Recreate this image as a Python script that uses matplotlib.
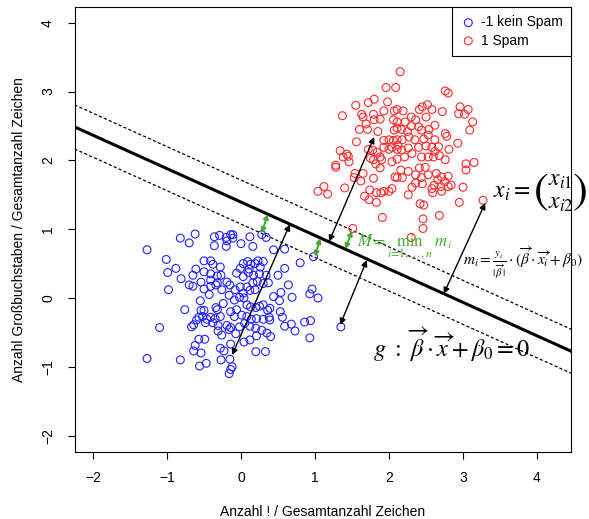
import numpy
import matplotlib
matplotlib.use("Agg")
from matplotlib import pyplot

pyplot.rcParams['font.family'] = ['Liberation Sans', 'DejaVu Sans']
pyplot.rcParams['mathtext.fontset'] = 'stix'

# class -1 (kein Spam)
neg_x = [-0.62, -0.82, -0.70, -0.36, -0.29, -0.20, -0.14, -0.19, -0.36, -0.20, -1.27, -1.01, -0.88, -0.99,
         -0.50, -0.41, -0.38, -0.28, -0.61, -0.65, -0.50, -0.41, -0.32, -0.27, -0.81, -0.54, -0.41, -0.32,
         -0.34, -0.19, -0.15, -0.70, -0.65, -0.50, -0.41, -0.26, -0.98, -0.43, -0.16, -0.55, -0.24, -0.34,
         -0.32, -0.54, -0.50, -0.76, -0.14, -0.57, -0.52, -0.46, -0.41, -0.35, -0.28, -0.60, -0.64, -0.67,
         -0.48, -0.38, -0.31, -0.19, -0.14, -1.10, -0.31, -0.26, -0.16, -0.57, -0.49, -0.62, -0.64, -0.54,
         -0.28, -0.23, -0.14, -1.27, -0.82, -0.56, -0.47, -0.27, -0.15, -0.14, -0.16,
         -0.11, -0.11, 0.00, 0.12, 0.16, 0.28, 0.34, 0.44, 0.59, 0.80, 0.98, 0.59, 0.50, 0.64, 0.54, 0.44,
         0.52, 0.69, 0.96, 0.93, 1.04, 0.53, 0.56, 0.36, 0.38, 0.39, 0.30, 0.25, 0.20, 0.09, 0.13, 0.19,
         0.23, 0.30, 0.26, 0.11, 0.03, -0.01, -0.06, 0.03, 0.10, 0.17, 0.25, 0.34, 0.22, 0.30, 0.37, 0.16,
         0.08, -0.01, -0.08, 0.03, 0.12, 0.19, -0.02, 0.04, -0.09, 0.08, 0.13, -0.06, 0.01, 0.08, 0.14,
         0.21, 0.30, 0.39, -0.09, -0.02, 0.05, 0.12, 0.20, 0.28, 0.35, 0.40, 0.21, 0.12, 0.04, -0.07, 0.20,
         0.33, 0.59, 0.68, 0.73, 0.86, 0.94, 0.93, -0.12, 1.35]
neg_y = [0.93, 0.87, 0.80, 0.89, 0.91, 0.88, 0.92, 0.83, 0.76, 0.75, 0.70, 0.56, 0.43, 0.37,
         0.54, 0.54, 0.49, 0.45, 0.42, 0.33, 0.38, 0.35, 0.32, 0.33, 0.28, 0.23, 0.26, 0.22,
         0.19, 0.23, 0.19, 0.19, 0.17, 0.13, 0.17, 0.12, 0.12, 0.05, 0.04, -0.04, -0.08, -0.14,
         -0.17, -0.18, -0.18, -0.17, -0.20, -0.28, -0.27, -0.31, -0.28, -0.30, -0.27, -0.32, -0.39, -0.42,
         -0.36, -0.36, -0.40, -0.40, -0.43, -0.43, -0.48, -0.54, -0.46, -0.60, -0.60, -0.69, -0.77, -0.80,
         -0.73, -0.77, -0.67, -0.88, -0.90, -0.99, -0.95, -0.90, -0.89, -1.04, -1.10,
         0.92, 0.87, 0.79, 0.89, 0.75, 0.92, 0.88, 0.70, 0.71, 0.51, 0.60, 0.43, 0.33, 0.19, 0.08, 0.02,
         -0.04, 0.01, 0.13, 0.06, 0.00, -0.20, -0.28, -0.18, -0.28, -0.15, -0.10, -0.12, -0.14, 0.53, 0.49, 0.50,
         0.54, 0.53, 0.45, 0.42, 0.50, 0.43, 0.36, 0.31, 0.37, 0.33, 0.35, 0.33, 0.24, 0.21, 0.22, 0.22,
         0.16, 0.16, 0.12, 0.07, 0.11, 0.12, 0.01, 0.00, -0.03, -0.10, -0.13, -0.17, -0.25, -0.27, -0.31,
         -0.30, -0.31, -0.32, -0.27, -0.42, -0.37, -0.41, -0.44, -0.47, -0.51, -0.56, -0.55, -0.61, -0.64, -0.52, -0.78,
         -0.78, -0.41, -0.38, -0.48, -0.35, -0.33, -0.58, -1.00, -0.42]

# class 1 (Spam)
pos_x = [2.15, 1.96, 2.09, 1.80, 1.72, 1.98, 1.55, 1.37, 1.63, 1.65, 1.79, 1.88, 1.93, 2.07, 2.11, 1.69,
         1.71, 1.60, 1.85, 1.80, 2.06, 2.11, 2.07, 2.11, 1.56, 1.93, 2.00, 2.06, 2.11, 1.34, 1.43, 1.38,
         1.45, 1.46, 1.28, 1.28, 1.72, 1.78, 1.84, 1.93, 2.00, 2.04, 2.11, 1.88, 1.79, 1.90, 1.75, 1.82,
         1.88, 2.04, 2.11, 1.54, 1.65, 1.53, 1.62, 1.79, 2.08, 2.11, 1.12, 1.04, 1.17, 1.40, 1.74, 1.83,
         1.89, 2.00, 2.04, 1.93, 1.67, 1.73, 1.83, 1.91, 1.51,
         2.76, 2.80, 2.96, 3.07, 2.94, 3.02, 3.13, 3.09, 2.72, 2.52, 2.45, 2.41, 2.58, 2.19, 2.30, 2.36,
         2.50, 2.22, 2.30, 2.40, 2.44, 2.54, 2.62, 2.17, 2.25, 2.76, 2.78, 2.93, 2.81, 2.62, 2.53, 2.47,
         2.35, 2.27, 2.18, 2.12, 2.40, 2.50, 2.58, 2.67, 2.62, 2.26, 2.17, 2.31, 2.21, 2.44, 2.53, 2.60,
         2.76, 2.68, 3.04, 3.15, 3.04, 2.41, 2.49, 2.36, 2.26, 2.16, 2.53, 2.64, 2.71, 2.80, 2.44, 2.18,
         2.66, 2.61, 2.75, 2.84, 3.00, 2.80, 2.70, 2.58, 2.45, 2.36, 2.31, 2.26, 2.59, 2.71, 2.95, 2.42,
         2.47, 2.68, 2.46, 2.46, 2.30, 3.27]
pos_y = [3.29, 3.06, 3.06, 2.89, 2.84, 2.85, 2.80, 2.65, 2.67, 2.63, 2.67, 2.60, 2.72, 2.72, 2.74, 2.53,
         2.45, 2.45, 2.42, 2.59, 2.59, 2.56, 2.44, 2.47, 2.27, 2.29, 2.30, 2.29, 2.30, 2.14, 2.09, 2.05,
         2.06, 1.98, 1.93, 1.90, 2.16, 2.15, 2.12, 2.19, 2.16, 2.19, 2.16, 2.05, 2.01, 2.01, 2.03, 1.95,
         1.89, 1.98, 2.02, 1.81, 1.81, 1.75, 1.70, 1.74, 1.76, 1.75, 1.62, 1.55, 1.51, 1.60, 1.57, 1.53,
         1.53, 1.55, 1.59, 1.55, 1.48, 1.43, 1.39, 1.17, 1.01,
         3.01, 2.98, 2.78, 2.74, 2.68, 2.67, 2.56, 2.44, 2.71, 2.81, 2.78, 2.74, 2.74, 2.72, 2.63, 2.59,
         2.63, 2.56, 2.50, 2.49, 2.44, 2.45, 2.51, 2.45, 2.42, 2.39, 2.35, 2.25, 2.16, 2.30, 2.37, 2.31,
         2.30, 2.34, 2.30, 2.22, 2.19, 2.21, 2.19, 2.20, 2.13, 2.18, 2.15, 2.10, 2.05, 2.05, 2.05, 2.05,
         2.01, 2.07, 1.95, 1.97, 1.86, 1.89, 1.90, 1.79, 1.84, 1.86, 1.79, 1.81, 1.76, 1.77, 1.75, 1.75,
         1.72, 1.64, 1.69, 1.64, 1.61, 1.62, 1.62, 1.59, 1.66, 1.67, 1.61, 1.50, 1.53, 1.55, 1.39, 1.37,
         1.35, 1.20, 1.15, 1.01, 0.88, 1.42]

# separating line g and the two margin lines
g_slope = -0.486
g_intercept = 1.394
margin = 0.32

# distance arrows (line -> point) and margin arrows
dist_from = [(0.66, 1.07), (1.19, 0.82), (1.70, 0.55), (2.74, 0.06)]
dist_to = [(-0.12, -0.83), (1.80, 2.34), (1.34, -0.39), (3.30, 1.38)]
marg_from = [(0.36, 1.22), (1.07, 0.87), (1.50, 0.98)]
marg_to = [(0.28, 0.94), (1.00, 0.60), (1.41, 0.71)]

green = '#3fae2a'

fig = pyplot.figure(figsize=(5.89, 5.19), dpi=100)
ax = fig.add_axes([0.1265, 0.129, 0.8430, 0.8575])

ax.scatter(neg_x, neg_y, s=32, facecolors='none', edgecolors='#2222ff', linewidths=0.8,
           label='-1 kein Spam', zorder=3)
ax.scatter(pos_x, pos_y, s=32, facecolors='none', edgecolors='#ff2a2a', linewidths=0.8,
           label='1 Spam', zorder=3)

ax.axline((0, g_intercept), slope=g_slope, color='black', lw=2.2, zorder=2)
ax.axline((0, g_intercept + margin), slope=g_slope, color='black', lw=0.9,
          linestyle=(0, (2.5, 1.8)), zorder=2)
ax.axline((0, g_intercept - margin), slope=g_slope, color='black', lw=0.9,
          linestyle=(0, (2.5, 1.8)), zorder=2)

for p0, p1 in zip(dist_from, dist_to):
    ax.annotate('', xy=p1, xytext=p0,
                arrowprops=dict(arrowstyle='<|-|>', color='black', lw=1.0,
                                mutation_scale=9, shrinkA=0, shrinkB=0), zorder=4)
for p0, p1 in zip(marg_from, marg_to):
    ax.annotate('', xy=p1, xytext=p0,
                arrowprops=dict(arrowstyle='<|-|>', color=green, lw=1.4,
                                mutation_scale=7, shrinkA=0, shrinkB=0), zorder=4)

# formulas
# x_i as column vector (built by hand, mathtext has no matrices)
ax.text(3.40, 1.54, r'$x_i =$', fontsize=17, ha='left', va='center', zorder=5)
ax.text(4.15, 1.54, r'$($', fontsize=32, ha='right', va='center', zorder=5)
ax.text(4.15, 1.71, r'$x_{i1}$', fontsize=17, ha='left', va='center', zorder=5)
ax.text(4.15, 1.38, r'$x_{i2}$', fontsize=17, ha='left', va='center', zorder=5)
ax.text(4.47, 1.54, r'$)$', fontsize=32, ha='left', va='center', zorder=5)

ax.text(3.00, 0.52, r'$m_i = \frac{y_i}{|\,\overrightarrow{\beta}\,|}\cdot(\overrightarrow{\beta}\cdot\overrightarrow{x_i}+\beta_0)$',
        fontsize=11, ha='left', va='center', zorder=5)
ax.text(1.57, 0.74, r'$M = \min_{i=1,\ldots,n}\ m_i$', fontsize=12, color=green,
        ha='left', va='baseline', zorder=5)
ax.text(1.78, -0.86, r'$g\ :\ \overrightarrow{\beta}\cdot\overrightarrow{x}+\beta_0 = 0$', fontsize=17.5,
        ha='left', va='baseline', zorder=5)

ax.set_xlim(-2.25, 4.46)
ax.set_ylim(-2.24, 4.23)
ax.set_xticks(numpy.arange(-2, 5, 1))
ax.set_yticks(numpy.arange(-2, 5, 1))
ax.tick_params(direction='out', length=5, width=0.8, labelsize=10, pad=9)
ax.tick_params(axis='y', labelrotation=90)
for lab in ax.get_yticklabels():
    lab.set_va('center')
for sp in ax.spines.values():
    sp.set_linewidth(0.8)

ax.set_xlabel('Anzahl ! / Gesamtanzahl Zeichen', fontsize=10, labelpad=14)
ax.set_ylabel('Anzahl Großbuchstaben / Gesamtanzahl Zeichen', fontsize=10, labelpad=11)

leg = ax.legend(loc='upper right', borderaxespad=0, fancybox=False, framealpha=1,
                edgecolor='black', fontsize=10, scatterpoints=1, handletextpad=0.3,
                handlelength=1.2, borderpad=0.6, labelspacing=0.3)
leg.get_frame().set_linewidth(0.8)

pyplot.savefig("out.png", dpi=100)
